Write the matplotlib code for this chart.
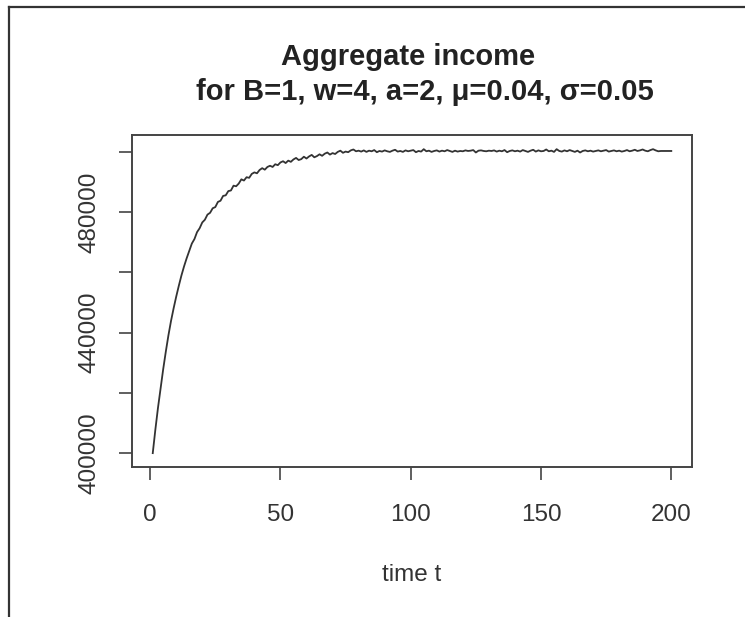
import matplotlib
matplotlib.use("Agg")
import matplotlib.pyplot as plt
from matplotlib.lines import Line2D

plt.rcParams['font.family'] = ['Liberation Sans', 'DejaVu Sans']

# time steps and aggregate income
time_t = list(range(1, 201))
income = [
    400000, 407800, 415000, 421500, 427800, 433600, 439000, 443800, 448000, 451900,
    455500, 458900, 461900, 464600, 467100, 469500, 471000, 473300, 474600, 476500,
    477400, 479100, 479700, 481200, 481600, 483300, 483700, 485300, 485500, 486900,
    487100, 488700, 488500, 489400, 490800, 490400, 491500, 491300, 492600, 493100,
    492800, 493900, 494500, 494000, 494900, 495300, 494900, 495800, 495500, 496400,
    496800, 496200, 497000, 496600, 497400, 497900, 497200, 497500, 498300, 497700,
    498400, 498900, 498100, 498500, 499100, 498600, 499300, 499700, 499000, 499500,
    499200, 499900, 500300, 499600, 500000, 499800, 500400, 500700, 500100, 500300,
    500000, 500400, 499900, 500300, 500100, 500500, 499800, 500200, 500000, 500400,
    500100, 499900, 500300, 500600, 500000, 500200, 499900, 500400, 500100, 500300,
    500500, 499800, 500200, 500000, 500800, 500100, 500300, 499900, 500200, 500400,
    500000, 500300, 500100, 500500, 500200, 499900, 500300, 500000, 500200, 500100,
    500400, 500200, 500300, 500500, 499700, 500300, 500400, 500200, 500100, 500300,
    500200, 500400, 500000, 500300, 500100, 500500, 499800, 500200, 500400, 500100,
    500300, 500000, 500500, 500200, 499900, 500300, 500600, 500000, 500400, 500100,
    500200, 500700, 500100, 500300, 499900, 500800, 500200, 500000, 500400, 500100,
    500500, 500200, 499900, 500300, 499700, 500200, 500400, 500100, 500300, 500000,
    500200, 500400, 500100, 500300, 500500, 500000, 500200, 500400, 500100, 500300,
    500000, 500200, 500500, 500100, 500300, 500600, 500200, 500400, 500700, 500300,
    500100, 500500, 500800, 500400, 500100, 500200, 500200, 500200, 500200, 500200,
]
x_ticks = [0, 50, 100, 150, 200]
y_ticks = [400000, 420000, 440000, 460000, 480000, 500000]
y_labels = ['400000', '', '440000', '', '480000', '']

fig = plt.figure(figsize=(7.45, 6.17), dpi=100)
ax = fig.add_axes([0.1772, 0.2431, 0.7517, 0.5381])

ax.plot(time_t, income, color='#333333', lw=1.3)
ax.set_xlim(-6.96, 207.96)
ax.set_ylim(395400, 505500)

ax.set_xticks(x_ticks)
ax.set_xticklabels([str(v) for v in x_ticks])
ax.set_yticks(y_ticks)
ax.set_yticklabels(y_labels, rotation=90, va='center')
ax.tick_params(length=9.4, width=1.2, color='#444444', labelsize=17.5,
               labelcolor='#333333')
ax.tick_params(axis='x', pad=17.5)
ax.tick_params(axis='y', pad=13)
for s in ax.spines.values():
    s.set_color('#444444')
    s.set_linewidth(1.4)

ax.set_xlabel('time t', fontsize=17.5, color='#333333', labelpad=27)

fig.text(0.5477, 0.9076, 'Aggregate income', ha='center', va='center',
         fontsize=21, fontweight='bold', color='#222222')
fig.text(0.5705, 0.8509, 'for B=1, w=4, a=2, \u03bc=0.04, \u03c3=0.05', ha='center',
         va='center', fontsize=21, fontweight='bold', color='#222222')

# frame lines along the left and top edge of the image
fig.add_artist(Line2D([9 / 745, 9 / 745], [0, 1 - 7 / 617], color='#333333', lw=1.6,
                      transform=fig.transFigure))
fig.add_artist(Line2D([9 / 745, 1], [1 - 7 / 617, 1 - 7 / 617], color='#333333', lw=1.6,
                      transform=fig.transFigure))

fig.savefig('out.png', dpi=100)
